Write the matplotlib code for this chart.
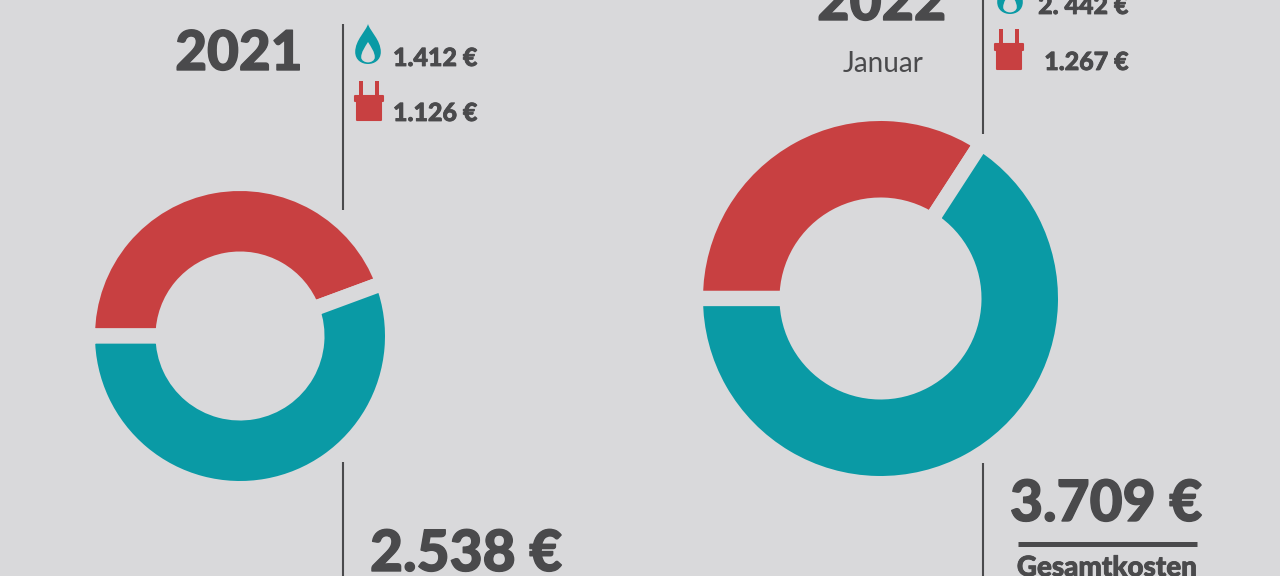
import matplotlib.pyplot as plt
import matplotlib.patheffects as pe
from matplotlib.patches import PathPatch
from matplotlib.path import Path
from matplotlib.transforms import Affine2D

# Values from the picture
strom = [1126, 1267]
gas = [1412, 2442]
years = ['2021', '2022']
gas_labels = ['1.412 €', '2. 442 €']
strom_labels = ['1.126 €', '1.267 €']
totals = ['2.538 €', '3.709 €']

BG = '#d9d9db'
DARK = '#4a4a4c'
RED = '#c84041'
TEAL = '#0a9aa5'
W, H = 1280, 576

plt.rcParams['font.family'] = ['Lato', 'DejaVu Sans']

fig = plt.figure(figsize=(12.8, 5.76), dpi=100, facecolor=BG)
ax = fig.add_axes([0, 0, 1, 1])


def py(y):
    # picture y (from the top) to axes y
    return H - y


def label(x, y, s, size, weight='black', ha='left', color=DARK, stroke=0):
    # y is the baseline
    t = ax.text(x, py(y), s, fontsize=size, fontweight=weight, ha=ha, va='baseline', color=color)
    if stroke:
        t.set_path_effects([pe.withStroke(linewidth=stroke, foreground=color)])


def vline(x, y0, y1):
    ax.plot([x, x], [py(y0), py(y1)], color=DARK, lw=1.5, solid_capstyle='butt')


def donut(cx, cy, r, r_in, red, teal, gap):
    # the edge eats half of the gap on each side
    pad = gap / 72 * 100 / 2
    ax.pie([red, teal], colors=[RED, TEAL], startangle=180, counterclock=False,
           center=(cx, py(cy)), radius=r + pad,
           wedgeprops=dict(width=r - r_in + 2 * pad, edgecolor=BG, linewidth=gap))


def flame(cx, top, h):
    # unit flame, tip at (0,1), bottom at (0,0), with a hole going the other way round
    verts = [(0, 1), (0.05, 0.82), (0.32, 0.6), (0.32, 0.3), (0.32, 0.1), (0.16, 0), (0, 0),
             (-0.16, 0), (-0.32, 0.1), (-0.32, 0.3), (-0.32, 0.6), (-0.05, 0.82), (0, 1), (0, 1),
             (0, 0.55), (-0.08, 0.42), (-0.17, 0.3), (-0.17, 0.17), (-0.17, 0.08), (-0.07, 0.04), (0, 0.04),
             (0.07, 0.04), (0.17, 0.08), (0.17, 0.17), (0.17, 0.3), (0.08, 0.42), (0, 0.55), (0, 0.55)]
    codes = []
    for _ in range(2):
        codes += [Path.MOVETO] + [Path.CURVE4] * 12 + [Path.CLOSEPOLY]
    tr = Affine2D().scale(h, h).translate(cx, py(top + h))
    ax.add_patch(PathPatch(Path(verts, codes).transformed(tr), fc=TEAL, ec='none'))


def plug(cx, top, w):
    # pins, then the collar and the body of the plug
    s = w / 30
    body = [(-14, 15), (14, 15), (14, 21), (12, 21), (12, 40), (-12, 40), (-12, 21), (-14, 21)]
    pins = [[(-10, 0), (-6, 0), (-6, 15), (-10, 15)], [(6, 0), (10, 0), (10, 15), (6, 15)]]
    ax.fill([cx + p[0] * s for p in body], [py(top + p[1] * s) for p in body],
            fc=RED, ec=RED, lw=1.5, joinstyle='round')
    for part in pins:
        ax.fill([cx + p[0] * s for p in part], [py(top + p[1] * s) for p in part], fc=RED, lw=0)


donut(240, 336, 145, 84.5, strom[0], gas[0], 11)
donut(880.5, 298.5, 177.5, 101, strom[1], gas[1], 11)

vline(342.5, 24, 210)
vline(342.5, 462, 576)
vline(982.5, 0, 134)
vline(982.5, 463, 576)

label(239, 70, years[0], 39.5, ha='center', stroke=1)
label(881.5, 20, years[1], 40, ha='center', stroke=1)
label(883, 72, 'Januar', 20, weight='normal', ha='center')

flame(368, 24, 40)
plug(369, 81, 29)
flame(1010, -26, 40)
plug(1009, 29, 30)

label(393, 66, gas_labels[0], 18, stroke=0.6)
label(393, 121, strom_labels[0], 18, stroke=0.6)
label(1129, 14, gas_labels[1], 18, ha='right', stroke=0.6)
label(1129, 70, strom_labels[1], 18, ha='right', stroke=0.6)

label(370, 571, totals[0], 41, stroke=1)
label(1010, 521, totals[1], 41, stroke=1)
ax.plot([1018, 1197], [py(544), py(544)], color=DARK, lw=3.6, solid_capstyle='butt')
label(1107, 576, 'Gesamtkosten', 20, ha='center', stroke=0.6)

ax.set_xlim(0, W)
ax.set_ylim(0, H)
ax.axis('off')

fig.savefig('out.png', dpi=100, facecolor=BG)
